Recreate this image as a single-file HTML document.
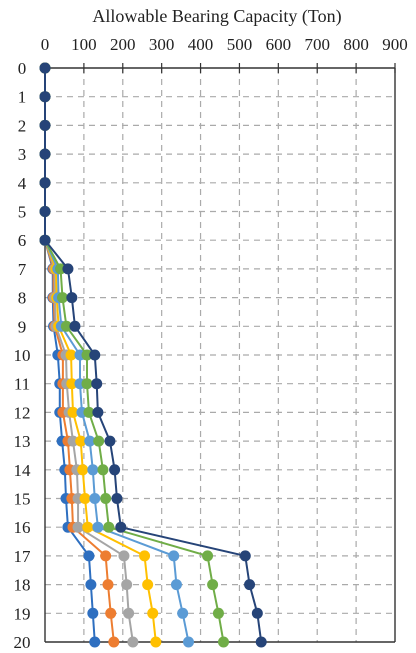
<!DOCTYPE html>
<html><head><meta charset="utf-8"><style>
html,body{margin:0;padding:0;background:#fff;}
svg{display:block;font-family:"Liberation Serif",serif;}
</style></head><body>
<svg id="chart" width="416" height="653" viewBox="0 0 416 653" xmlns="http://www.w3.org/2000/svg">
<text x="217" y="22" font-size="18" text-anchor="middle" fill="#222">Allowable Bearing Capacity (Ton)</text>
<g id="grid"></g><g id="axes"></g><g id="series"></g>
</svg>
<script>
const xTicks = [0,100,200,300,400,500,600,700,800,900];
const depths = [0,1,2,3,4,5,6,7,8,9,10,11,12,13,14,15,16,17,18,19,20];
const seriesColors = ["#2E6FC0","#ED7D31","#A5A5A5","#FFC000","#5B9BD5","#70AD47","#264478"];
const s1 = [0,0,0,0,0,0,0,20,20,22,33,38,38,44,51,54,59,113,118,123,128];
const s2 = [0,0,0,0,0,0,0,22,22,25,46,46,46,59,64,69,72,156,162,169,177];
const s3 = [0,0,0,0,0,0,0,25,25,28,54,56,62,72,82,85,85,203,210,215,226];
const s4 = [0,0,0,0,0,0,0,28,30,35,67,69,72,92,97,103,110,256,264,277,285];
const s5 = [0,0,0,0,0,0,0,33,35,42,90,90,95,115,123,128,136,331,338,354,369];
const s6 = [0,0,0,0,0,0,0,40,45,55,108,108,113,138,149,156,164,418,431,446,459];
const s7 = [0,0,0,0,0,0,0,59,69,77,128,133,136,167,179,185,195,515,526,546,556];
const allSeries = [s1,s2,s3,s4,s5,s6,s7];

const NS="http://www.w3.org/2000/svg";
const X0=45,X1=395,Y0=68,Y1=642;
const sx=v=>X0+(v-0)/900*(X1-X0);
const sy=d=>Y0+d/20*(Y1-Y0);
function mk(tag,attrs,parent){const e=document.createElementNS(NS,tag);for(const k in attrs)e.setAttribute(k,attrs[k]);parent.appendChild(e);return e;}
const grid=document.getElementById('grid'),axes=document.getElementById('axes'),ser=document.getElementById('series');
xTicks.forEach(t=>{
  if(t>0&&t<900){const l=mk('line',{x1:sx(t),x2:sx(t),y1:Y0,y2:Y1,stroke:'#aaa','stroke-width':1.2,'stroke-dasharray':'6,5'},grid);
  
  }
  const tk=mk('line',{x1:sx(t),x2:sx(t),y1:Y0-5,y2:Y0+5,stroke:'#333','stroke-width':1.2},axes);
  
  
  const tx=mk('text',{x:sx(t),y:Y0-18,'font-size':17,'text-anchor':'middle',fill:'#222'},axes);tx.textContent=t;
  
  
});
depths.forEach(d=>{
  if(d>0&&d<20){const l=mk('line',{x1:X0,x2:X1,y1:sy(d),y2:sy(d),stroke:'#aaa','stroke-width':1.2,'stroke-dasharray':'6,5'},grid);
  
  }
  const tx=mk('text',{x:22,y:sy(d)+6,'font-size':17,'text-anchor':'middle',fill:'#222'},axes);tx.textContent=d;
  
  
});
[[X0,Y0,X1,Y0,'top-axis'],[X0,Y0,X0,Y1,'left-axis'],[X1,Y0,X1,Y1,'right-border'],[X0,Y1,X1,Y1,'bottom-border']].forEach(a=>{
  const l=mk('line',{x1:a[0],y1:a[1],x2:a[2],y2:a[3],stroke:'#333','stroke-width':1.4},axes);
  
  
});
allSeries.forEach((s,i)=>{
  const g=mk('g',{},ser);
  
  
  const pts=s.map((v,j)=>sx(v)+','+sy(depths[j])).join(' ');
  const pl=mk('polyline',{points:pts,fill:'none',stroke:seriesColors[i],'stroke-width':2},g);
  
  
  s.forEach((v,j)=>{
    const c=mk('circle',{cx:sx(v),cy:sy(depths[j]),r:5.5,fill:seriesColors[i]},g);
    
    
  });
});
</script>
</body></html>
